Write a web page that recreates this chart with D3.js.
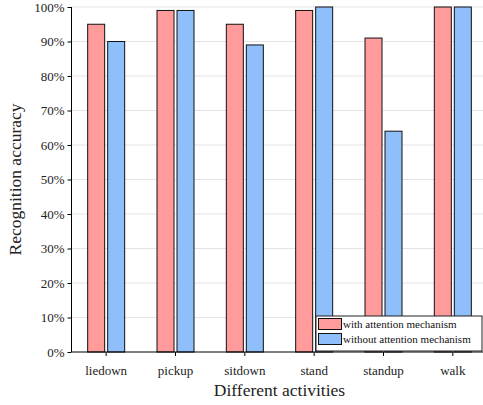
<!DOCTYPE html>
<html>
<head>
<meta charset="UTF-8">
<style>
  body { margin: 0; background: #fff; }
  .grid line { stroke: #e3e3e3; stroke-width: 1.2px; }
  .axis path, .axis line { stroke: #000; }
</style>
</head>
<body>
<svg width="483" height="405"></svg>
<script src="https://d3js.org/d3.v7.min.js"></script>
<script>
const activities = ["liedown", "pickup", "sitdown", "stand", "standup", "walk"];
const withAttention = [95, 99, 95, 99, 91, 100];
const withoutAttention = [90, 99, 89, 100, 64, 100];
const seriesNames = ["with attention mechanism", "without attention mechanism"];
const colors = ["#ff9b9b", "#8fbffa"];
const yTicks = [0, 10, 20, 30, 40, 50, 60, 70, 80, 90, 100];

const serif = "'Liberation Serif', 'Times New Roman', serif";
const margin = { left: 71.5, top: 7, bottom: 53 };
const width = 483, height = 405;
const plotRight = 487.5;

const svg = d3.select("svg").style("font-family", serif);

const x = d3.scaleBand().domain(activities).range([margin.left, plotRight]);
const y = d3.scaleLinear().domain([0, 100]).range([height - margin.bottom, margin.top]);

// gridlines
svg.append("g").attr("class", "grid")
  .selectAll("line").data(yTicks.slice(1)).join("line")
  .attr("x1", margin.left).attr("x2", width)
  .attr("y1", d => y(d)).attr("y2", d => y(d));

const barW = 17, gap = 3;
const series = [withAttention, withoutAttention];
series.forEach((vals, i) => {
  svg.append("g").selectAll("rect").data(vals).join("rect")
    .attr("x", (d, j) => x(activities[j]) + x.bandwidth() / 2 + (i === 0 ? -gap / 2 - barW : gap / 2))
    .attr("y", d => y(d))
    .attr("width", barW)
    .attr("height", d => y(0) - y(d))
    .attr("fill", colors[i])
    .attr("stroke", "#111")
    .attr("stroke-width", 1);
});

// axes
svg.append("g").attr("class", "axis")
  .attr("transform", `translate(${margin.left},0)`)
  .call(d3.axisLeft(y).tickValues(yTicks).tickFormat(d => d + "%").tickSizeOuter(0).tickSize(4))
  .call(g => g.select(".domain").attr("d", `M0,${y(0)}V${y(100)}`));

svg.append("g").attr("class", "axis")
  .attr("transform", `translate(0,${y(0)})`)
  .call(d3.axisBottom(x).tickSize(4).tickSizeOuter(0).tickPadding(10))
  .call(g => g.select(".domain").attr("d", `M${margin.left},0H${width}`));

svg.selectAll(".axis text")
  .style("font-family", serif)
  .style("font-size", "13px")
  .attr("fill", "#222");

// titles
svg.append("text")
  .attr("x", (margin.left + plotRight) / 2).attr("y", 396)
  .attr("text-anchor", "middle")
  .style("font-size", "17.5px").attr("fill", "#222")
  .text("Different activities");

svg.append("text")
  .attr("transform", `translate(21,${(y(0) + y(100)) / 2}) rotate(-90)`)
  .attr("text-anchor", "middle")
  .style("font-size", "17.5px").attr("fill", "#222")
  .text("Recognition accuracy");

// legend
const lg = svg.append("g").attr("transform", "translate(316,316)");
lg.append("rect").attr("width", 166).attr("height", 35)
  .attr("fill", "#fff").attr("stroke", "#222").attr("stroke-width", 1);
seriesNames.forEach((name, i) => {
  lg.append("rect").attr("x", 2.5).attr("y", 2.5 + i * 15).attr("width", 23).attr("height", 11)
    .attr("fill", colors[i]).attr("stroke", "#111");
  lg.append("text").attr("x", 27).attr("y", 12 + i * 15)
    .style("font-size", "11px").attr("fill", "#111").text(name);
});
</script>
</body>
</html>
